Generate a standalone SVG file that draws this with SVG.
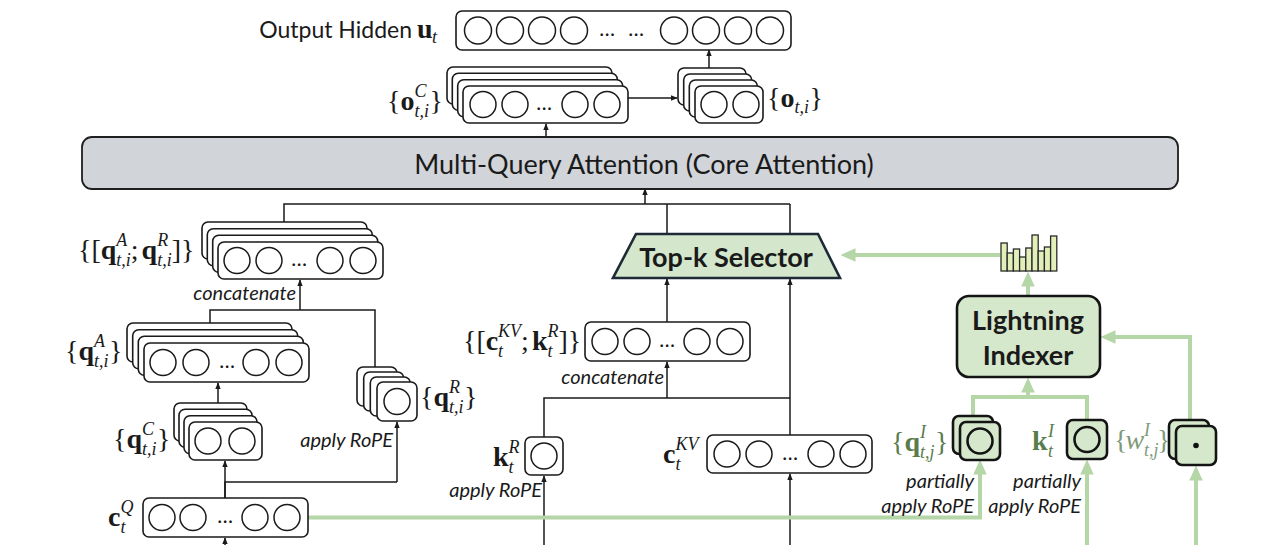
<svg xmlns="http://www.w3.org/2000/svg" width="1280" height="545" viewBox="0 0 1280 545">
<defs>
<marker id="ab" viewBox="0 0 10 10" refX="9" refY="5" markerWidth="7" markerHeight="7" markerUnits="userSpaceOnUse" orient="auto"><path d="M0,1 L10,5 L0,9 z" fill="#1a1a1a"/></marker>
<marker id="ag" viewBox="0 0 10 10" refX="3" refY="5" markerWidth="15" markerHeight="15" markerUnits="userSpaceOnUse" orient="auto"><path d="M0,0.5 L10,5 L0,9.5 z" fill="#b5d6a6"/></marker>
</defs>
<style>
.bx{fill:#fff;stroke:#1a1a1a;stroke-width:1.6}
.c{fill:none;stroke:#1a1a1a;stroke-width:1.5}
.ln{fill:none;stroke:#1a1a1a;stroke-width:1.5}
.ar{marker-end:url(#ab)}
.gl{fill:none;stroke:#b5d6a6;stroke-width:4}
.ga{marker-end:url(#ag)}
.gbx{fill:#d5e8cc;stroke:#141414;stroke-width:2.6}
.gc{fill:none;stroke:#141414;stroke-width:2.6}
.t{font-family:Lato,"Open Sans",sans-serif;fill:#1a1a1a}
.it{font-family:Lato,"Open Sans",sans-serif;font-style:italic;font-size:20px;fill:#1a1a1a}
.m{font-family:"Liberation Serif","DejaVu Serif",serif;font-size:28px;fill:#1a1a1a}
.b{font-weight:bold}
.s{font-size:18px;font-style:italic}
.dots{font-family:Lato,"Open Sans",sans-serif;font-size:21px;fill:#1a1a1a;text-anchor:middle}
.hb{fill:#e3efb8;stroke:#2a2a2a;stroke-width:1.3}
</style>
<rect width="1280" height="545" fill="#fff"/>

<g id="connectors">
  <line class="ln ar" x1="628" y1="98" x2="677" y2="98"/>
  <line class="ln ar" x1="709" y1="68" x2="709" y2="50"/>
  <line class="ln ar" x1="546" y1="137" x2="546" y2="124"/>
  <path class="ln" d="M284,222 V204 H790 M667,204 V234 M790,204 V234"/>
  <line class="ln ar" x1="645" y1="204" x2="645" y2="189"/>
  <line class="ln ar" x1="667" y1="322" x2="667" y2="279"/>
  <line class="ln ar" x1="790" y1="435" x2="790" y2="279"/>
  <path class="ln" d="M544,437 V398 H790"/>
  <line class="ln ar" x1="667" y1="398" x2="667" y2="362"/>
  <line class="ln ar" x1="544" y1="545" x2="544" y2="476"/>
  <line class="ln ar" x1="790" y1="545" x2="790" y2="474"/>
  <line class="ln ar" x1="300" y1="310" x2="300" y2="280"/>
  <path class="ln" d="M210,323 V310 H375 V367"/>
  <line class="ln ar" x1="218" y1="403" x2="218" y2="383"/>
  <path class="ln" d="M225,498 V482 H397"/>
  <line class="ln ar" x1="397" y1="482" x2="397" y2="422"/>
  <line class="ln ar" x1="225" y1="498" x2="225" y2="461"/>
  <line class="ln ar" x1="225" y1="545" x2="225" y2="538"/>
  <path class="gl ga" d="M308,517.5 H980 V470"/>
  <line class="gl ga" x1="1087" y1="545" x2="1087" y2="470"/>
  <line class="gl ga" x1="1196" y1="545" x2="1196" y2="476"/>
  <path class="gl" d="M973,416 V397 H1087 V420"/>
  <line class="gl ga" x1="1028" y1="397" x2="1028" y2="388"/>
  <path class="gl ga" d="M1190,420 V337 H1111"/>
  <line class="gl ga" x1="1028" y1="296" x2="1028" y2="282"/>
  <line class="gl ga" x1="1000" y1="255" x2="851" y2="255"/>
</g>

<g id="output-hidden">
  <text class="t" x="412" y="38" font-size="23" text-anchor="end">Output Hidden</text>
  <text class="m" font-size="26"><tspan class="b" x="417" y="38">u</tspan><tspan class="s" x="432" y="43">t</tspan></text>
  <rect class="bx" x="456" y="11" width="335" height="39" rx="6"/>
  <circle class="c" cx="478" cy="30.5" r="13.5"/><circle class="c" cx="510" cy="30.5" r="13.5"/>
  <circle class="c" cx="542" cy="30.5" r="13.5"/><circle class="c" cx="574" cy="30.5" r="13.5"/>
  <circle class="c" cx="674" cy="30.5" r="13.5"/><circle class="c" cx="706" cy="30.5" r="13.5"/>
  <circle class="c" cx="738" cy="30.5" r="13.5"/><circle class="c" cx="770" cy="30.5" r="13.5"/>
  <text class="dots" x="607" y="36">…</text><text class="dots" x="636" y="36">…</text>
</g>

<g id="o-c-stack">
  <rect class="bx" x="447" y="67" width="165" height="37" rx="6"/>
  <rect class="bx" x="452.3" y="73.3" width="165" height="37" rx="6"/>
  <rect class="bx" x="457.7" y="79.7" width="165" height="37" rx="6"/>
  <rect class="bx" x="463" y="86" width="165" height="37" rx="6"/>
  <circle class="c" cx="483" cy="104.5" r="13"/><circle class="c" cx="515" cy="104.5" r="13"/>
  <circle class="c" cx="575" cy="104.5" r="13"/><circle class="c" cx="607" cy="104.5" r="13"/>
  <text class="dots" x="544" y="110">…</text>
  <text class="m"><tspan x="387" y="110">{</tspan><tspan class="b" x="400.4" y="110">o</tspan><tspan class="s" x="414.4" y="97">C</tspan><tspan class="s" x="414.4" y="117">t,i</tspan><tspan x="429.4" y="110">}</tspan></text>
</g>

<g id="o-stack">
  <rect class="bx" x="678" y="68" width="68" height="37" rx="6"/>
  <rect class="bx" x="683.7" y="74" width="68" height="37" rx="6"/>
  <rect class="bx" x="689.3" y="80" width="68" height="37" rx="6"/>
  <rect class="bx" x="695" y="86" width="68" height="37" rx="6"/>
  <circle class="c" cx="714" cy="104.5" r="13"/><circle class="c" cx="746" cy="104.5" r="13"/>
  <text class="m"><tspan x="767" y="107">{</tspan><tspan class="b" x="780.4" y="107">o</tspan><tspan class="s" x="794.4" y="113">t,i</tspan><tspan x="809.4" y="107">}</tspan></text>
</g>

<g id="mqa">
  <rect x="82" y="137" width="1096" height="52" rx="10" fill="#d1d4d8" stroke="#1f1f1f" stroke-width="1.8"/>
  <text class="t" x="644" y="174" font-size="27" text-anchor="middle">Multi-Query Attention (Core Attention)</text>
</g>

<g id="topk-selector">
  <polygon points="636,234 818,234 840,278 613,278" fill="#d4e7cd" stroke="#1e2b36" stroke-width="2.6"/>
  <text class="t b" x="726" y="267" font-size="27" text-anchor="middle">Top-k Selector</text>
</g>

<g id="qaqr-stack">
  <rect class="bx" x="202" y="222" width="165" height="37" rx="6"/>
  <rect class="bx" x="207.3" y="228.7" width="165" height="37" rx="6"/>
  <rect class="bx" x="212.7" y="235.3" width="165" height="37" rx="6"/>
  <rect class="bx" x="218" y="242" width="165" height="37" rx="6"/>
  <circle class="c" cx="237" cy="260.5" r="13"/><circle class="c" cx="269" cy="260.5" r="13"/>
  <circle class="c" cx="330" cy="260.5" r="13"/><circle class="c" cx="363" cy="260.5" r="13"/>
  <text class="dots" x="299" y="266">…</text>
  <text class="m"><tspan x="78" y="259">{</tspan><tspan x="91.4" y="259">[</tspan><tspan class="b" x="100.7" y="259">q</tspan><tspan class="s" x="116.3" y="246">A</tspan><tspan class="s" x="116.3" y="266">t,i</tspan><tspan x="130.8" y="259">;</tspan><tspan class="b" x="141.6" y="259">q</tspan><tspan class="s" x="157.2" y="246">R</tspan><tspan class="s" x="157.2" y="266">t,i</tspan><tspan x="171.7" y="259">]</tspan><tspan x="181" y="259">}</tspan></text>
  <text class="it" x="296" y="300" text-anchor="end">concatenate</text>
</g>

<g id="qa-stack">
  <rect class="bx" x="127" y="323" width="165" height="39" rx="6"/>
  <rect class="bx" x="132.7" y="329.7" width="165" height="39" rx="6"/>
  <rect class="bx" x="138.3" y="336.3" width="165" height="39" rx="6"/>
  <rect class="bx" x="144" y="343" width="165" height="39" rx="6"/>
  <circle class="c" cx="163" cy="362.5" r="13"/><circle class="c" cx="196" cy="362.5" r="13"/>
  <circle class="c" cx="256" cy="362.5" r="13"/><circle class="c" cx="289" cy="362.5" r="13"/>
  <text class="dots" x="227" y="368">…</text>
  <text class="m"><tspan x="65" y="360">{</tspan><tspan class="b" x="78.4" y="360">q</tspan><tspan class="s" x="94" y="347">A</tspan><tspan class="s" x="94" y="367">t,i</tspan><tspan x="109" y="360">}</tspan></text>
</g>

<g id="qc-stack">
  <rect class="bx" x="174" y="403" width="73" height="38" rx="6"/>
  <rect class="bx" x="179" y="409.3" width="73" height="38" rx="6"/>
  <rect class="bx" x="184" y="415.7" width="73" height="38" rx="6"/>
  <rect class="bx" x="189" y="422" width="73" height="38" rx="6"/>
  <circle class="c" cx="208" cy="441" r="13"/><circle class="c" cx="242" cy="441" r="13"/>
  <text class="m"><tspan x="113" y="448">{</tspan><tspan class="b" x="126.4" y="448">q</tspan><tspan class="s" x="142" y="435">C</tspan><tspan class="s" x="142" y="455">t,i</tspan><tspan x="157" y="448">}</tspan></text>
</g>

<g id="qr-stack">
  <rect class="bx" x="357" y="367" width="40" height="39" rx="6"/>
  <rect class="bx" x="363.7" y="372" width="40" height="39" rx="6"/>
  <rect class="bx" x="370.3" y="377" width="40" height="39" rx="6"/>
  <rect class="bx" x="377" y="382" width="40" height="39" rx="6"/>
  <circle class="c" cx="397" cy="401.5" r="13"/>
  <text class="m"><tspan x="420" y="406">{</tspan><tspan class="b" x="433.4" y="406">q</tspan><tspan class="s" x="449" y="393">R</tspan><tspan class="s" x="449" y="413">t,i</tspan><tspan x="464" y="406">}</tspan></text>
  <text class="it" x="393" y="447" text-anchor="end">apply RoPE</text>
</g>

<g id="cq">
  <rect class="bx" x="143" y="498" width="165" height="39" rx="6"/>
  <circle class="c" cx="162" cy="517.5" r="13"/><circle class="c" cx="193" cy="517.5" r="13"/>
  <circle class="c" cx="255" cy="517.5" r="13"/><circle class="c" cx="287" cy="517.5" r="13"/>
  <text class="dots" x="225" y="523">…</text>
  <text class="m"><tspan class="b" x="108" y="526">c</tspan><tspan class="s" x="120.4" y="513">Q</tspan><tspan class="s" x="120.4" y="533">t</tspan></text>
</g>

<g id="kv-concat">
  <rect class="bx" x="585" y="322" width="165" height="39" rx="6"/>
  <circle class="c" cx="605" cy="341.5" r="13"/><circle class="c" cx="637" cy="341.5" r="13"/>
  <circle class="c" cx="697" cy="341.5" r="13"/><circle class="c" cx="730" cy="341.5" r="13"/>
  <text class="dots" x="667" y="347">…</text>
  <text class="m"><tspan x="463" y="350">{</tspan><tspan x="476.4" y="350">[</tspan><tspan class="b" x="485.7" y="350">c</tspan><tspan class="s" x="498.1" y="337">KV</tspan><tspan class="s" x="498.1" y="357">t</tspan><tspan x="521.1" y="350">;</tspan><tspan class="b" x="531.9" y="350">k</tspan><tspan class="s" x="547.5" y="337">R</tspan><tspan class="s" x="547.5" y="357">t</tspan><tspan x="558.5" y="350">]</tspan><tspan x="567.8" y="350">}</tspan></text>
  <text class="it" x="664" y="384" text-anchor="end">concatenate</text>
</g>

<g id="kr">
  <rect class="bx" x="525" y="437" width="38" height="38" rx="6"/>
  <circle class="c" cx="544" cy="456" r="13"/>
  <text class="m"><tspan class="b" x="493" y="466">k</tspan><tspan class="s" x="508.6" y="453">R</tspan><tspan class="s" x="508.6" y="473">t</tspan></text>
  <text class="it" x="542" y="497" text-anchor="end">apply RoPE</text>
</g>

<g id="ckv">
  <rect class="bx" x="707" y="435" width="165" height="38" rx="6"/>
  <circle class="c" cx="727" cy="454" r="13"/><circle class="c" cx="759" cy="454" r="13"/>
  <circle class="c" cx="821" cy="454" r="13"/><circle class="c" cx="853" cy="454" r="13"/>
  <text class="dots" x="790" y="460">…</text>
  <text class="m"><tspan class="b" x="663" y="463">c</tspan><tspan class="s" x="675.4" y="450">KV</tspan><tspan class="s" x="675.4" y="470">t</tspan></text>
</g>

<g id="histogram">
  <rect class="hb" x="1001" y="243" width="6.2" height="28"/>
  <rect class="hb" x="1007.2" y="253" width="6.2" height="18"/>
  <rect class="hb" x="1013.4" y="249" width="6.2" height="22"/>
  <rect class="hb" x="1019.6" y="257" width="6.2" height="14"/>
  <rect class="hb" x="1025.8" y="248" width="6.2" height="23"/>
  <rect class="hb" x="1032" y="235" width="6.2" height="36"/>
  <rect class="hb" x="1038.2" y="251" width="6.2" height="20"/>
  <rect class="hb" x="1044.4" y="247" width="6.2" height="24"/>
  <rect class="hb" x="1050.6" y="236" width="6.2" height="35"/>
</g>

<g id="lightning-indexer">
  <rect class="gbx" x="957" y="296" width="143" height="81" rx="12" stroke-width="3"/>
  <text class="t b" x="1028" y="330" font-size="27" text-anchor="middle">Lightning</text>
  <text class="t b" x="1028" y="365" font-size="27" text-anchor="middle">Indexer</text>
</g>

<g id="qi-stack">
  <rect class="gbx" x="953" y="416" width="40" height="38" rx="6"/>
  <rect class="gbx" x="960" y="422" width="40" height="38" rx="6"/>
  <circle class="gc" cx="980" cy="441" r="12.5"/>
  <text class="m" style="fill:#5a7c4c"><tspan x="891" y="451">{</tspan><tspan class="b" x="904.4" y="451">q</tspan><tspan class="s" x="920" y="438">I</tspan><tspan class="s" x="920" y="458">t,j</tspan><tspan x="935" y="451">}</tspan></text>
  <text class="it" x="974" y="488" text-anchor="end">partially</text>
  <text class="it" x="974" y="513" text-anchor="end">apply RoPE</text>
</g>

<g id="ki">
  <rect class="gbx" x="1067" y="420" width="40" height="39" rx="6"/>
  <circle class="gc" cx="1087" cy="439.5" r="12.5"/>
  <text class="m" style="fill:#5a7c4c"><tspan class="b" x="1032" y="450">k</tspan><tspan class="s" x="1048" y="437">I</tspan><tspan class="s" x="1048" y="457">t</tspan></text>
  <text class="it" x="1081" y="488" text-anchor="end">partially</text>
  <text class="it" x="1081" y="513" text-anchor="end">apply RoPE</text>
</g>

<g id="wi-stack">
  <rect class="gbx" x="1169" y="420" width="40" height="39" rx="6"/>
  <rect class="gbx" x="1176" y="426" width="40" height="39" rx="6"/>
  <circle cx="1196" cy="445.5" r="2.8" fill="#111"/>
  <text class="m" font-size="24" style="fill:#7f9a78"><tspan x="1114" y="449">{</tspan><tspan font-style="italic" x="1125.5" y="449">w</tspan><tspan class="s" font-size="15" x="1144" y="436">I</tspan><tspan class="s" font-size="15" x="1144" y="456">t,j</tspan><tspan x="1157" y="449">}</tspan></text>
</g>
</svg>
